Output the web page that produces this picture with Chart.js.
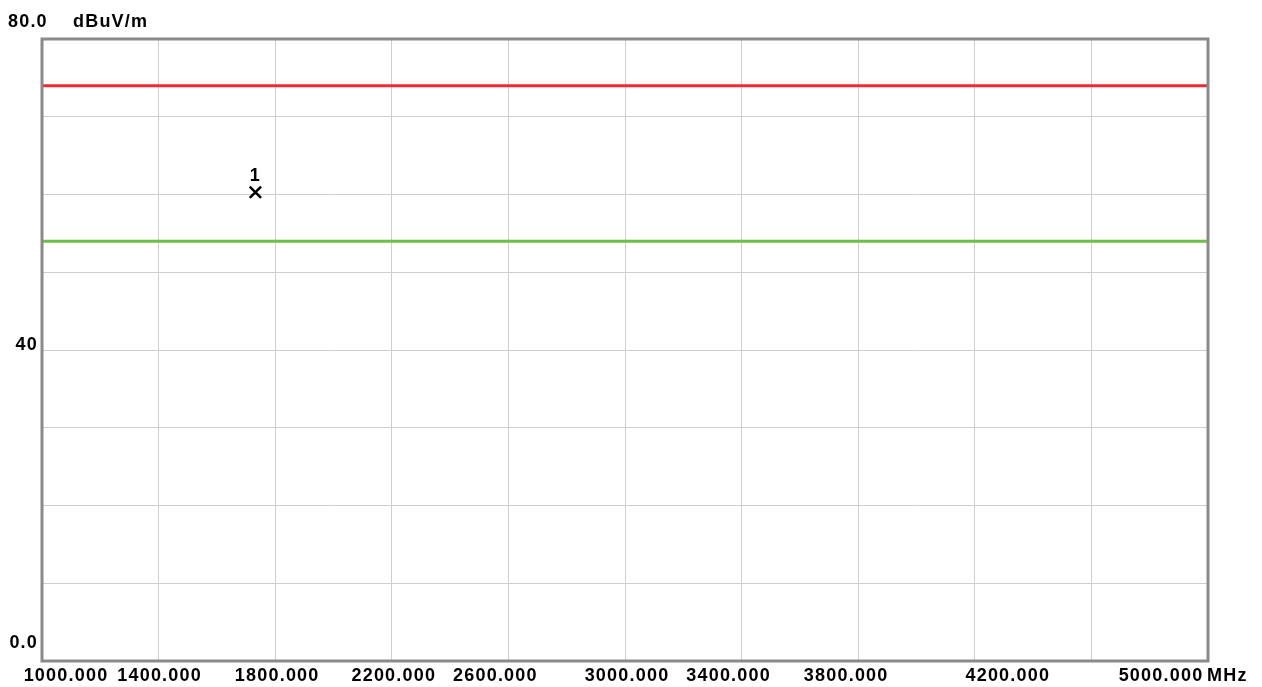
<!DOCTYPE html>
<html>
<head>
<meta charset="utf-8">
<script src="https://cdn.jsdelivr.net/npm/chart.js@4"></script>
<style>
  body { margin: 0; background: #fff; }
  #wrap { width: 1262px; height: 687px; position: relative; }
</style>
</head>
<body>
<div id="wrap"><canvas id="emcChart"></canvas></div>
<script>
// frequency axis (MHz) and level axis (dBuV/m)
const xTicks = [1000, 1400, 1800, 2200, 2600, 3000, 3400, 3800, 4200, 4600, 5000];
const xTickLabels = ['1000.000', '1400.000', '1800.000', '2200.000', '2600.000', '3000.000',
                     '3400.000', '3800.000', '4200.000', '', '5000.000'];
const yTicks = [0, 40, 80];
const yTickLabels = ['0.0', '40', '80.0'];

// limit lines
const limitFreq = [1000, 5000];
const peakLimit = [74, 74];
const avgLimit = [54, 54];

// measured markers
const markerFreq = [1732];
const markerLevel = [60.3];
const markerNames = ['1'];

const FONT = 'bold 18px "Liberation Sans", Arial, sans-serif';

// label nudges (px) - the original software places them a bit off the gridlines
const xLabelNudge = [24, 1, 2, 2, -13, 2, -13, -12, 33, 0, -47];

const frameAndLabels = {
    id: 'frameAndLabels',
    afterDraw(chart) {
        const { ctx, chartArea: a, scales } = chart;
        ctx.save();
        // plot frame
        ctx.strokeStyle = '#8a8a8a';
        ctx.lineWidth = 3;
        ctx.strokeRect(a.left, a.top, a.right - a.left, a.bottom - a.top);

        ctx.fillStyle = '#000';
        ctx.font = FONT;
        ctx.letterSpacing = '1.2px';
        ctx.textBaseline = 'middle';

        // x labels
        ctx.textAlign = 'center';
        xTicks.forEach((v, i) => {
            if (!xTickLabels[i]) return;
            ctx.fillText(xTickLabels[i], scales.x.getPixelForValue(v) + xLabelNudge[i], a.bottom + 15);
        });
        ctx.textAlign = 'left';
        ctx.fillText('MHz', a.right - 1, a.bottom + 15);

        // y labels
        yTicks.forEach((v, i) => {
            const py = scales.y.getPixelForValue(v);
            if (v === 80) {
                ctx.textAlign = 'left';
                ctx.fillText(yTickLabels[i], 8, py - 17);
                ctx.fillText('dBuV/m', 73, py - 17);
            } else if (v === 0) {
                ctx.textAlign = 'right';
                ctx.fillText(yTickLabels[i], 38, py - 18);
            } else {
                ctx.textAlign = 'right';
                ctx.fillText(yTickLabels[i], 38, py - 5);
            }
        });

        // marker names
        const meta = chart.getDatasetMeta(2);
        ctx.textAlign = 'center';
        meta.data.forEach((pt, i) => {
            ctx.fillText(markerNames[i], pt.x, pt.y - 16);
        });
        ctx.restore();
    }
};

const ctx = document.getElementById('emcChart').getContext('2d');

const emcChart = new Chart(ctx, {
    type: 'scatter',
    data: {
        datasets: [
            {
                label: 'Peak limit',
                data: limitFreq.map((f, i) => ({ x: f, y: peakLimit[i] })),
                showLine: true,
                borderColor: '#ee2a30',
                borderWidth: 3,
                pointRadius: 0
            },
            {
                label: 'Average limit',
                data: limitFreq.map((f, i) => ({ x: f, y: avgLimit[i] })),
                showLine: true,
                borderColor: '#6cc04a',
                borderWidth: 3,
                pointRadius: 0
            },
            {
                label: 'Markers',
                data: markerFreq.map((f, i) => ({ x: f, y: markerLevel[i] })),
                pointStyle: 'crossRot',
                pointRadius: 8,
                borderColor: '#000',
                borderWidth: 2.5
            }
        ]
    },
    options: {
        responsive: true,
        maintainAspectRatio: false,
        animation: false,
        devicePixelRatio: 1,
        layout: { padding: { left: 42, right: 54, top: 39, bottom: 26 } },
        scales: {
            x: {
                type: 'linear',
                min: 1000,
                max: 5000,
                afterBuildTicks: scale => { scale.ticks = xTicks.map(v => ({ value: v })); },
                ticks: { display: false },
                grid: { color: '#cfcfcf', lineWidth: 1, drawTicks: false },
                border: { display: false }
            },
            y: {
                min: 0,
                max: 80,
                ticks: { display: false, stepSize: 10 },
                grid: { color: '#cfcfcf', lineWidth: 1, drawTicks: false },
                border: { display: false }
            }
        },
        plugins: {
            legend: { display: false },
            tooltip: { enabled: false }
        }
    },
    plugins: [frameAndLabels]
});
</script>
</body>
</html>
